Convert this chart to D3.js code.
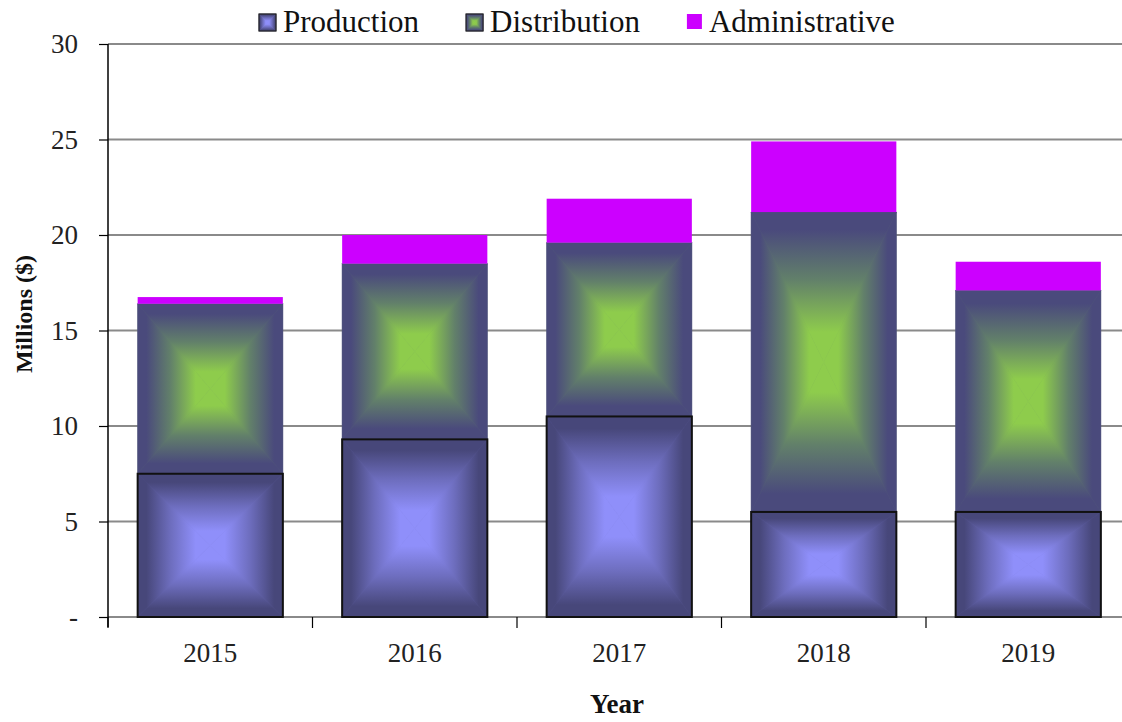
<!DOCTYPE html>
<html>
<head>
<meta charset="utf-8">
<script src="https://cdn.jsdelivr.net/npm/d3@7"></script>
<style>
  body { margin: 0; background: #fff; }
  svg text { font-family: "Liberation Serif", "DejaVu Serif", serif; }
</style>
</head>
<body>
<div id="chart"></div>
<script>
// data (millions of $)
var years = ["2015", "2016", "2017", "2018", "2019"];
var production = [7.5, 9.3, 10.5, 5.5, 5.5];
var distribution = [8.9, 9.2, 9.1, 15.7, 11.6];
var administrative = [0.35, 1.5, 2.3, 3.7, 1.5];
var seriesNames = ["Production", "Distribution", "Administrative"];
var yTicks = [0, 5, 10, 15, 20, 25, 30];

var serif = "'Liberation Serif', 'DejaVu Serif', serif";

function init() {
    var w = 1122, h = 722;
    var left = 108, right = 1130.5, top = 44, bottom = 617;

    var svg = d3.select("#chart").append("svg")
        .attr("width", w)
        .attr("height", h)
        .style("display", "block");
    var defs = svg.append("defs");

    // edge/center colours for the box-style gradients
    var looks = {
        Production: { edge: "#47477a", mid: "#6d6dbd", center: "#8f8ffa" },
        Distribution: { edge: "#4a4a7c", mid: "#62806a", center: "#8ecc4c" },
        Administrative: { solid: "#cc00ff" }
    };

    //one linear gradient per direction per series, edge -> center
    var dirs = {
        top: { x1: 0, y1: 0, x2: 0, y2: 1 },
        bottom: { x1: 0, y1: 1, x2: 0, y2: 0 },
        left: { x1: 0, y1: 0, x2: 1, y2: 0 },
        right: { x1: 1, y1: 0, x2: 0, y2: 0 }
    };
    ["Production", "Distribution"].forEach(function(name) {
        var lk = looks[name];
        Object.keys(dirs).forEach(function(k) {
            var g = defs.append("linearGradient")
                .attr("id", "g-" + name + "-" + k)
                .attr("x1", dirs[k].x1).attr("y1", dirs[k].y1)
                .attr("x2", dirs[k].x2).attr("y2", dirs[k].y2);
            g.append("stop").attr("offset", "0").attr("stop-color", lk.edge);
            g.append("stop").attr("offset", "0.12").attr("stop-color", lk.edge);
            g.append("stop").attr("offset", "0.45").attr("stop-color", lk.mid);
            g.append("stop").attr("offset", "0.8").attr("stop-color", lk.center);
            g.append("stop").attr("offset", "1").attr("stop-color", lk.center);
        });
    });

    // draws a rectangle filled with a "box" gradient from 4 triangles
    function boxRect(sel, name, x0, y0, bw, bh) {
        var lk = looks[name];
        var g = sel.append("g");
        if (lk.solid) {
            g.append("rect").attr("x", x0).attr("y", y0).attr("width", bw).attr("height", bh)
                .attr("fill", lk.solid);
            return g;
        }
        var cx = x0 + bw / 2, cy = y0 + bh / 2;
        g.append("rect").attr("x", x0).attr("y", y0).attr("width", bw).attr("height", bh)
            .attr("fill", lk.mid);
        var tris = {
            top: [[x0, y0], [x0 + bw, y0], [cx, cy]],
            bottom: [[x0, y0 + bh], [x0 + bw, y0 + bh], [cx, cy]],
            left: [[x0, y0], [x0, y0 + bh], [cx, cy]],
            right: [[x0 + bw, y0], [x0 + bw, y0 + bh], [cx, cy]]
        };
        Object.keys(tris).forEach(function(k) {
            g.append("polygon")
                .attr("points", tris[k].map(function(p) { return p.join(","); }).join(" "))
                .attr("fill", "url(#g-" + name + "-" + k + ")")
                .attr("stroke", "url(#g-" + name + "-" + k + ")")
                .attr("stroke-width", 0.6);
        });
        return g;
    }

    var xScale = d3.scaleBand()
        .domain(years)
        .range([left, right])
        .paddingInner(0.29)
        .paddingOuter(0.145);
    var yScale = d3.scaleLinear()
        .domain([0, 30])
        .range([bottom, top]);

    // gridlines
    svg.append("g").selectAll("line")
        .data(yTicks)
        .enter().append("line")
        .attr("x1", left).attr("x2", w)
        .attr("y1", d => yScale(d)).attr("y2", d => yScale(d))
        .attr("stroke", "#8a8a8a")
        .attr("stroke-width", 2);

    //stack the data
    var rows = years.map((y, i) => ({
        year: y,
        Production: production[i],
        Distribution: distribution[i],
        Administrative: administrative[i]
    }));
    var stacked = d3.stack().keys(seriesNames)(rows);

    var bars = svg.append("g");
    stacked.forEach(function(layer) {
        layer.forEach(function(d) {
            var y0 = yScale(d[1]), y1 = yScale(d[0]);
            boxRect(bars, layer.key, xScale(d.data.year), y0, xScale.bandwidth(), y1 - y0);
        });
    });
    // production outlines on top
    stacked[0].forEach(function(d) {
        bars.append("rect")
            .attr("x", xScale(d.data.year)).attr("y", yScale(d[1]))
            .attr("width", xScale.bandwidth()).attr("height", yScale(d[0]) - yScale(d[1]))
            .attr("fill", "none").attr("stroke", "#111").attr("stroke-width", 2);
    });

    // y axis
    var yAxis = svg.append("g")
        .attr("transform", `translate(${left},0)`)
        .call(d3.axisLeft(yScale).tickValues(yTicks).tickSize(9).tickPadding(21)
            .tickFormat(d => d === 0 ? "-" : d));
    yAxis.attr("font-family", serif);
    yAxis.select(".domain").attr("d", `M0,${top}V${bottom + 10}`).attr("stroke", "#000").attr("stroke-width", 1.5);
    yAxis.selectAll(".tick line").attr("stroke", "#000").attr("stroke-width", 1.2);
    yAxis.selectAll(".tick text")
        .attr("font-family", serif)
        .attr("font-size", 27)
        .attr("fill", "#222");

    // x axis
    var xAxis = svg.append("g")
        .attr("transform", `translate(0,${bottom})`);
    xAxis.selectAll("line.xt")
        .data(d3.range(years.length + 1))
        .enter().append("line")
        .attr("class", "xt")
        .attr("x1", i => left + i * xScale.step()).attr("x2", i => left + i * xScale.step())
        .attr("y1", 0).attr("y2", 11)
        .attr("stroke", "#000").attr("stroke-width", 1.2);
    xAxis.selectAll("text")
        .data(years)
        .enter().append("text")
        .attr("x", d => xScale(d) + xScale.bandwidth() / 2)
        .attr("y", 45)
        .attr("text-anchor", "middle")
        .attr("font-family", serif)
        .attr("font-size", 27)
        .attr("fill", "#222")
        .text(d => d);

    // axis titles
    svg.append("text")
        .attr("transform", "translate(32,314) rotate(-90)")
        .attr("text-anchor", "middle")
        .attr("font-family", serif)
        .attr("font-size", 24)
        .attr("font-weight", "bold")
        .attr("fill", "#111")
        .text("Millions ($)");
    svg.append("text")
        .attr("x", 617).attr("y", 713)
        .attr("text-anchor", "middle")
        .attr("font-family", serif)
        .attr("font-size", 27)
        .attr("font-weight", "bold")
        .attr("fill", "#111")
        .text("Year");

    // legend
    var legend = svg.append("g");
    var lx = 259;
    seriesNames.forEach(function(name) {
        var sw = name === "Administrative" ? 15 : 17;
        boxRect(legend, name, lx, 14, sw, sw);
        if (name !== "Administrative") {
            legend.append("rect").attr("x", lx).attr("y", 14).attr("width", sw).attr("height", sw)
                .attr("fill", "none").attr("stroke", "#222").attr("stroke-width", 1.2);
        }
        var t = legend.append("text")
            .attr("x", lx + sw + 7).attr("y", 32)
            .attr("font-family", serif)
            .attr("font-size", 31)
            .attr("fill", "#111")
            .text(name);
        lx += sw + 7 + t.node().getComputedTextLength() + 47;
    });
}

window.onload = init;
</script>
</body>
</html>
